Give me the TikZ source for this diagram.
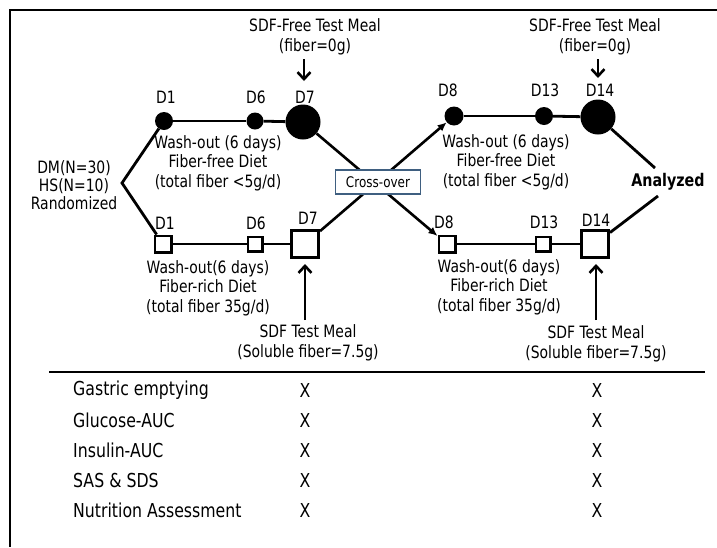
\documentclass[tikz,border=0pt]{standalone}
\usepackage{fontspec}
\setmainfont{DejaVu Sans}[FakeStretch=0.82]
\usetikzlibrary{arrows.meta}
\definecolor{boxblue}{HTML}{3F5F80}
\begin{document}
\begin{tikzpicture}[x=1pt,y=-1pt,
  txt/.style={inner sep=0pt, font=\fontsize{17}{19.5}\selectfont, align=center},
  lbl/.style={inner sep=0pt, font=\fontsize{17}{19}\selectfont},
  ln/.style={line width=2.8pt},
  dot/.style={circle, fill=black, inner sep=0pt},
  sq/.style={rectangle, draw=black, fill=white, line width=2.6pt, inner sep=0pt},
  meal/.style={line width=2.6pt, -{Straight Barb[length=7pt,width=13pt]}},
  cross/.style={line width=2.6pt, -{Latex[length=9pt,width=8pt]}},
  row/.style={inner sep=0pt, anchor=west, font=\fontsize{19.2}{20}\selectfont},
  xm/.style={inner sep=0pt, font=\fontsize{19.2}{20}\selectfont}]
\useasboundingbox (0,0) rectangle (717,547);
\fill[white] (0,0) rectangle (717,547);
% frame
\coordinate (fTR) at (717,10);
\coordinate (fTL) at (10,10);
\coordinate (fBL) at (10,547);
\draw[line width=2.5pt, line join=miter] (fTR) -- (fTL) -- (fBL);
% circles
\node[dot, minimum size=18pt] (c1) at (164,121) {};
\node[dot, minimum size=17pt] (c6) at (255,121) {};
\node[dot, minimum size=35pt] (c7) at (303,122) {};
\node[dot, minimum size=19pt] (c8) at (454,116) {};
\node[dot, minimum size=18pt] (c13) at (544,116) {};
\node[dot, minimum size=35pt] (c14) at (598,117) {};
% squares
\node[sq, minimum size=16.4pt] (s1) at (163,244) {};
\node[sq, minimum size=14.4pt] (s6) at (255,244) {};
\node[sq, minimum size=27.4pt] (s7) at (305,244) {};
\node[sq, minimum size=16.4pt] (s8) at (447,244) {};
\node[sq, minimum size=14.4pt] (s13) at (543,244) {};
\node[sq, minimum size=27.4pt] (s14) at (595,244) {};
% timeline connectors
\draw[ln] (c1) -- (c6);
\draw[ln] (c6) -- (c7);
\draw[ln] (c8) -- (c13);
\draw[ln] (c13) -- (c14);
\draw[ln] (s1) -- (s6);
\draw[ln] (s6) -- (s7);
\draw[ln] (s8) -- (s13);
\draw[ln] (s13) -- (s14);
% randomization
\node[txt, font=\fontsize{17}{18}\selectfont] (rand) at (74,185) {DM(N=30)\\HS(N=10)\\Randomized};
\coordinate (rv) at (122,183);
\draw[ln, line join=miter] (c1) -- (rv) -- (s1);
% cross-over
\draw[cross] (c7) -- (s8);
\draw[cross] (s7) -- (c8);
\node[draw=boxblue, fill=white, line width=1.2pt, minimum width=85pt, minimum height=24pt, inner sep=0pt, font=\fontsize{14.6}{16}\selectfont] (co) at (378,182) {Cross-over};
% analyzed
\node[inner sep=0pt, font=\fontsize{17.4}{19}\selectfont\bfseries] (an) at (668,182) {Analyzed};
\coordinate (a1) at (655,168);
\coordinate (a2) at (658,196);
\draw[ln] (c14) -- (a1);
\draw[ln] (s14) -- (a2);
% day labels
\node[lbl] (lc1) at (166,97) {D1};
\node[lbl] (lc6) at (256,97) {D6};
\node[lbl] (lc7) at (305,97) {D7};
\node[lbl] (lc8) at (448,90) {D8};
\node[lbl] (lc13) at (545,90) {D13};
\node[lbl] (lc14) at (600,90) {D14};
\node[lbl] (ls1) at (165,223) {D1};
\node[lbl] (ls6) at (256,223) {D6};
\node[lbl] (ls7) at (308,218) {D7};
\node[lbl] (ls8) at (444,222) {D8};
\node[lbl] (ls13) at (544,222) {D13};
\node[lbl] (ls14) at (596,220) {D14};
% test meals
\node[txt] (m1) at (315,37) {SDF-Free Test Meal\\(fiber=0g)};
\node[txt] (m2) at (595,37) {SDF-Free Test Meal\\(fiber=0g)};
\coordinate (m1s) at (304,59);
\coordinate (m1e) at (304,81);
\coordinate (m2s) at (598,59);
\coordinate (m2e) at (598,78);
\draw[meal] (m1s) -- (m1e);
\draw[meal] (m2s) -- (m2e);
\node[txt] (b1) at (308,343) {SDF Test Meal\\(Soluble fiber=7.5g)};
\node[txt] (b2) at (596,344) {SDF Test Meal\\(Soluble fiber=7.5g)};
\coordinate (b1s) at (305,320);
\coordinate (b1e) at (305,264);
\coordinate (b2s) at (596,320);
\coordinate (b2e) at (596,264);
\draw[meal] (b1s) -- (b1e);
\draw[meal] (b2s) -- (b2e);
% diets
\node[txt] (w1) at (218,163) {Wash-out (6 days)\\Fiber-free Diet\\(total fiber <5g/d)};
\node[txt] (w2) at (506,162) {Wash-out (6 days)\\Fiber-free Diet\\(total fiber <5g/d)};
\node[txt] (w3) at (208,288) {Wash-out(6 days)\\Fiber-rich Diet\\(total fiber 35g/d)};
\node[txt] (w4) at (499,287) {Wash-out(6 days)\\Fiber-rich Diet\\(total fiber 35g/d)};
% table
\coordinate (tl) at (49,372);
\coordinate (tr) at (705,372);
\draw[line width=1.8pt] (tl) -- (tr);
\node[row] (r1) at (73,390) {Gastric emptying};
\node[row] (r2) at (73,420) {Glucose-AUC};
\node[row] (r3) at (73,450) {Insulin-AUC};
\node[row] (r4) at (73,480) {SAS \& SDS};
\node[row] (r5) at (73,510) {Nutrition Assessment};
\node[xm] (x11) at (305,390) {X};
\node[xm] (x12) at (305,420) {X};
\node[xm] (x13) at (305,450) {X};
\node[xm] (x14) at (305,480) {X};
\node[xm] (x15) at (305,510) {X};
\node[xm] (x21) at (597,390) {X};
\node[xm] (x22) at (597,420) {X};
\node[xm] (x23) at (597,450) {X};
\node[xm] (x24) at (597,480) {X};
\node[xm] (x25) at (597,510) {X};
\end{tikzpicture}
\end{document}
